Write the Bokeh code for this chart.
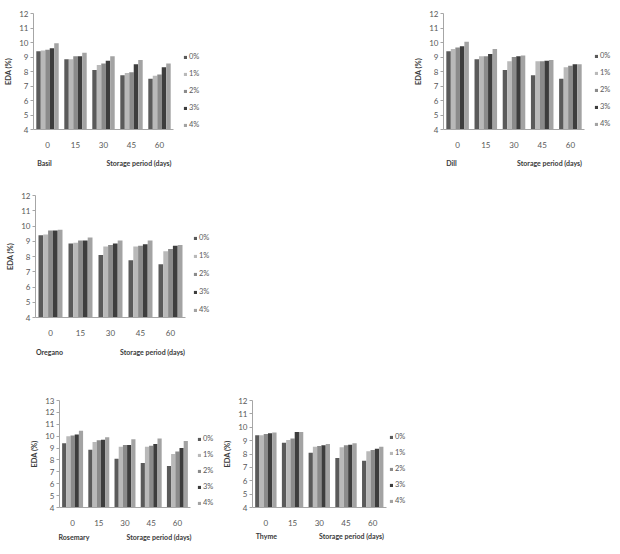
from bokeh.plotting import figure
from bokeh.layouts import column, row
from bokeh.models import (ColumnDataSource, Range1d, Legend, LegendItem,
                          Spacer, FixedTicker, LinearAxis)
from bokeh.transform import dodge
from bokeh.embed import file_html
from bokeh.resources import INLINE

days = ["0", "15", "30", "45", "60"]
levels = ["0%", "1%", "2%", "3%", "4%"]
colors = ["#5a5a5a", "#b9b9b9", "#8b8b8b", "#3d3d3d", "#a3a3a3"]
y_ticks_12 = [4, 5, 6, 7, 8, 9, 10, 11, 12]
y_ticks_13 = [4, 5, 6, 7, 8, 9, 10, 11, 12, 13]
x_title = "Storage period (days)"
y_title = "EDA (%)"

basil_0 = [9.4, 8.85, 8.1, 7.75, 7.5]
basil_1 = [9.45, 8.85, 8.45, 7.9, 7.7]
basil_2 = [9.5, 9.05, 8.55, 7.95, 7.8]
basil_3 = [9.6, 9.05, 8.75, 8.5, 8.3]
basil_4 = [9.95, 9.3, 9.05, 8.8, 8.55]

dill_0 = [9.4, 8.85, 8.1, 7.75, 7.5]
dill_1 = [9.55, 9.05, 8.7, 8.7, 8.3]
dill_2 = [9.65, 9.05, 9.0, 8.7, 8.4]
dill_3 = [9.75, 9.2, 9.05, 8.75, 8.5]
dill_4 = [10.05, 9.55, 9.1, 8.8, 8.5]

oregano_0 = [9.4, 8.85, 8.1, 7.75, 7.5]
oregano_1 = [9.45, 8.9, 8.65, 8.65, 8.35]
oregano_2 = [9.7, 9.05, 8.75, 8.7, 8.5]
oregano_3 = [9.7, 9.05, 8.85, 8.8, 8.7]
oregano_4 = [9.75, 9.25, 9.05, 9.05, 8.75]

rosemary_0 = [9.4, 8.85, 8.1, 7.75, 7.5]
rosemary_1 = [10.0, 9.5, 9.1, 9.1, 8.5]
rosemary_2 = [10.05, 9.65, 9.25, 9.2, 8.7]
rosemary_3 = [10.15, 9.7, 9.25, 9.35, 9.0]
rosemary_4 = [10.45, 9.9, 9.75, 9.8, 9.6]

thyme_0 = [9.4, 8.85, 8.1, 7.7, 7.5]
thyme_1 = [9.4, 9.05, 8.55, 8.5, 8.2]
thyme_2 = [9.5, 9.15, 8.6, 8.65, 8.3]
thyme_3 = [9.55, 9.65, 8.65, 8.7, 8.4]
thyme_4 = [9.6, 9.65, 8.75, 8.8, 8.55]

FONT = "Lato"
TICK_COLOR = "#595959"
LABEL_COLOR = "#3a3a3a"
AXIS_COLOR = "#a6a6a6"

day_pos = list(range(len(days)))


def make_panel(name, series, yticks, width, height, left, axis_right, top, bottom,
               legend_xy, spacing, name_c, period_c, caption_standoff):
    # the frame runs to the right edge so the legend sits inside it;
    # the x axis line is bounded to the category span
    x_lo = day_pos[0] - 0.5
    x_hi = day_pos[-1] + 0.5
    frame_w = width - left
    x_end = x_lo + (x_hi - x_lo) * frame_w / (axis_right - left)
    p = figure(width=width, height=height,
               x_range=Range1d(x_lo, x_end),
               y_range=Range1d(yticks[0], yticks[-1]),
               output_backend="svg", toolbar_location=None, tools="",
               min_border_left=left, min_border_right=0,
               min_border_top=top, min_border_bottom=bottom)
    p.outline_line_color = None
    p.grid.grid_line_color = None
    p.background_fill_color = "white"
    p.border_fill_color = "white"

    data = {"pos": day_pos}
    for lvl, vals in zip(levels, series):
        data[lvl] = vals
    src = ColumnDataSource(data)

    offsets = [-0.32, -0.16, 0.0, 0.16, 0.32]
    items = []
    for lvl, col, off in zip(levels, colors, offsets):
        r = p.vbar(x=dodge("pos", off), top=lvl, bottom=yticks[0],
                   width=0.16, source=src, fill_color=col, line_color=None)
        items.append(LegendItem(label=lvl, renderers=[r]))

    legend = Legend(items=items, location=legend_xy, orientation="vertical",
                    glyph_width=4, glyph_height=4, label_standoff=2,
                    label_height=9, label_width=10, spacing=spacing,
                    padding=0, margin=0, border_line_color=None,
                    background_fill_alpha=0,
                    label_text_font=FONT, label_text_font_size="7.5px",
                    label_text_color=TICK_COLOR)
    p.add_layout(legend, "center")

    p.yaxis.ticker = FixedTicker(ticks=yticks)
    p.yaxis.minor_tick_line_color = None
    p.yaxis.major_tick_in = 0
    p.yaxis.major_tick_out = 3
    p.yaxis.major_label_standoff = 2
    p.yaxis.axis_line_color = AXIS_COLOR
    p.yaxis.major_tick_line_color = AXIS_COLOR
    p.yaxis.major_label_text_font = FONT
    p.yaxis.major_label_text_font_size = "8px"
    p.yaxis.major_label_text_color = TICK_COLOR
    p.yaxis.axis_label = y_title
    p.yaxis.axis_label_standoff = 3
    p.yaxis.axis_label_text_font = FONT
    p.yaxis.axis_label_text_font_size = "7.5px"
    p.yaxis.axis_label_text_font_style = "bold"
    p.yaxis.axis_label_text_color = LABEL_COLOR

    p.xaxis.ticker = FixedTicker(ticks=day_pos)
    p.xaxis.bounds = (x_lo, x_hi)
    p.xaxis.major_label_overrides = {i: d for i, d in zip(day_pos, days)}
    p.xaxis.axis_line_color = AXIS_COLOR
    p.xaxis.major_tick_line_color = None
    p.xaxis.minor_tick_line_color = None
    p.xaxis.major_tick_in = 0
    p.xaxis.major_tick_out = 0
    p.xaxis.major_label_standoff = 12
    p.xaxis.major_label_text_font = FONT
    p.xaxis.major_label_text_font_size = "8px"
    p.xaxis.major_label_text_color = TICK_COLOR

    # caption line under the axis: panel name (left) and axis title (right)
    p.extra_x_ranges = {"cap": Range1d(0, frame_w)}
    cap = LinearAxis(x_range_name="cap",
                     ticker=FixedTicker(ticks=[name_c, period_c]),
                     major_label_overrides={name_c: name, period_c: x_title},
                     axis_line_color=None, major_tick_line_color=None,
                     minor_tick_line_color=None, major_tick_in=0, major_tick_out=0,
                     major_label_standoff=caption_standoff,
                     major_label_text_font=FONT, major_label_text_font_size="7px",
                     major_label_text_font_style="bold",
                     major_label_text_color=LABEL_COLOR)
    p.add_layout(cap, "below")
    return p


basil = make_panel("Basil", [basil_0, basil_1, basil_2, basil_3, basil_4], y_ticks_12,
                   215, 175, 33, 173, 13, 46, (150, 0), 8, 11, 105.5, 8)
dill = make_panel("Dill", [dill_0, dill_1, dill_2, dill_3, dill_4], y_ticks_12,
                  230, 175, 53, 194, 12, 46, (151, 1), 8, 8, 106, 8)
oregano = make_panel("Oregano", [oregano_0, oregano_1, oregano_2, oregano_3, oregano_4],
                     y_ticks_12, 220, 205, 35, 185, 20, 63, (158, 3), 9, 14, 117, 9)
rosemary = make_panel("Rosemary", [rosemary_0, rosemary_1, rosemary_2, rosemary_3, rosemary_4],
                      y_ticks_13, 220, 174, 59, 190, 20, 47, (138, 0), 7, 14.5, 99.5, 4)
thyme = make_panel("Thyme", [thyme_0, thyme_1, thyme_2, thyme_3, thyme_4], y_ticks_12,
                   220, 174, 30, 165, 19, 45, (137, 2), 7, 14, 100, 3)

layout = column(
    row(basil, Spacer(width=175, height=175), dill, spacing=0),
    row(oregano, Spacer(width=400, height=205), spacing=0),
    row(rosemary, thyme, Spacer(width=180, height=174), spacing=0),
    spacing=0,
)

open("out.html", "w").write(file_html(layout, INLINE))
